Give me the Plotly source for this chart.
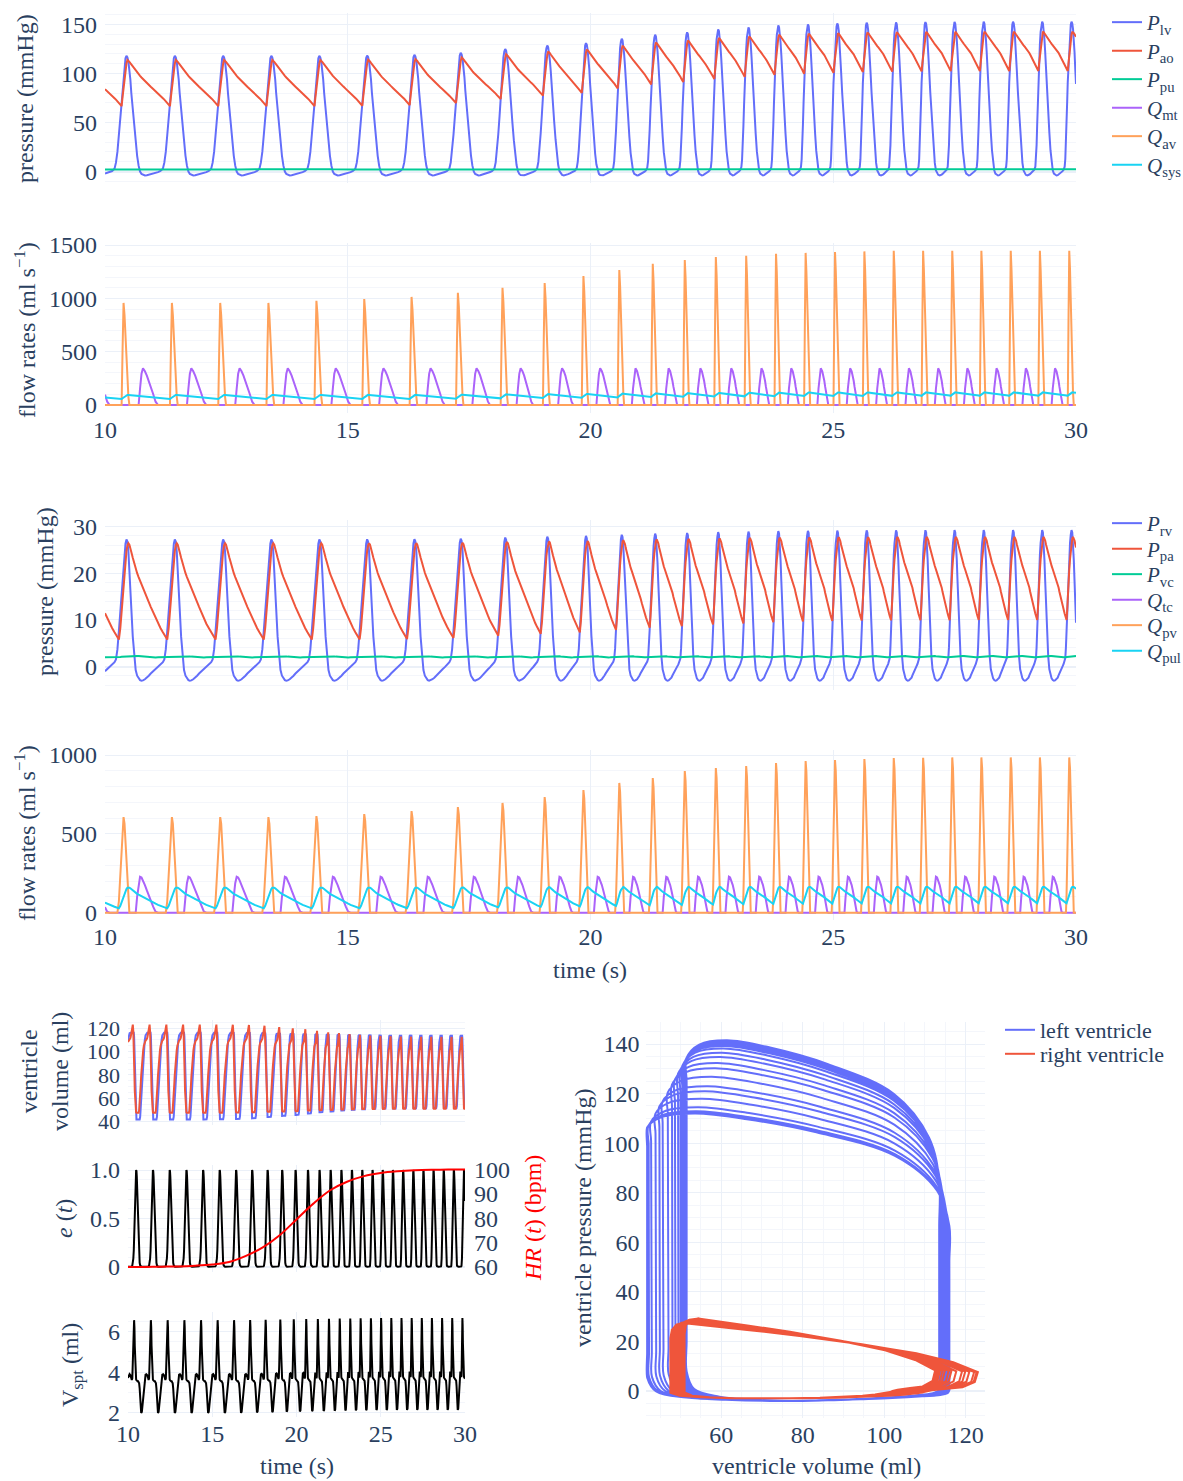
import numpy as np
import plotly.graph_objects as go

W, H = 1183, 1481

# ---------------- data ----------------
# beat onsets (s): aortic valve opening / minima of P_ao
beat_onsets = [9.345, 10.342, 11.338, 12.333, 13.326, 14.315, 15.300, 16.275, 17.230, 18.150,
               19.020, 19.820, 20.560, 21.250, 21.910, 22.550, 23.175, 23.790, 24.400, 25.005,
               25.610, 26.215, 26.820, 27.420, 28.020, 28.625, 29.225, 29.830, 30.430]

# per-beat amplitudes
plv_peak = [118, 118, 118, 118, 118, 118, 118.3, 119, 121, 125, 128.5, 131, 135.5, 139.5, 142,
            145, 147, 149, 150.2, 151, 151.8, 152.2, 152.5, 152.7, 152.8, 152.8, 152.9, 152.9, 152.9]
pao_peak = [113.8, 113.8, 113.8, 113.8, 113.8, 113.8, 114.1, 114.6, 116.3, 119.6, 122.5, 124.6, 128.3,
            131.6, 133.7, 136.2, 137.8, 139.5, 140.5, 141.1, 141.8, 142.1, 142.4, 142.5, 142.6, 142.6,
            142.7, 142.7, 142.7]
pao_min = [66.8, 66.8, 66.8, 66.8, 66.8, 66.8, 67.1, 67.8, 69.9, 74.0, 77.5, 80.1, 84.7, 88.9, 91.4,
           94.5, 96.6, 98.6, 99.8, 100.7, 101.5, 101.9, 102.2, 102.4, 102.5, 102.5, 102.6, 102.6, 102.6]
qav_peak = [957, 957, 957, 957, 957, 976, 994, 1013, 1051, 1098, 1144, 1210, 1266, 1323, 1360, 1388,
            1398, 1417, 1426, 1435, 1440, 1445, 1445, 1445, 1445, 1445, 1445, 1445, 1445]
qmt_peak = 344
qsys_max = [94.5, 94.5, 94.5, 94.5, 94.5, 94.5, 94.7, 95.1, 96.5, 99.3, 101.7, 103.4, 106.5, 109.2,
            111.0, 113.0, 114.4, 115.8, 116.6, 117.1, 117.7, 117.9, 118.2, 118.3, 118.4, 118.4, 118.4,
            118.4, 118.4]
qsys_min = [56.1, 56.1, 56.1, 56.1, 56.1, 56.1, 56.4, 57.0, 58.7, 62.2, 65.1, 67.3, 71.1, 74.7, 76.8,
            79.4, 81.1, 82.8, 83.8, 84.6, 85.3, 85.6, 85.8, 86.0, 86.1, 86.1, 86.2, 86.2, 86.2]
ppu_range = (2.0, 2.4)

prv_peak = [27.4, 27.4, 27.4, 27.4, 27.4, 27.4, 27.42, 27.46, 27.57, 27.8, 28.0, 28.14, 28.4, 28.63,
            28.78, 28.95, 29.06, 29.18, 29.25, 29.29, 29.34, 29.36, 29.38, 29.39, 29.39, 29.39, 29.4,
            29.4, 29.4]
ppa_peak = [26.4, 26.4, 26.4, 26.4, 26.4, 26.4, 26.41, 26.44, 26.52, 26.68, 26.82, 26.92, 27.1, 27.26,
            27.36, 27.48, 27.56, 27.64, 27.69, 27.72, 27.75, 27.77, 27.78, 27.79, 27.8, 27.8, 27.8,
            27.8, 27.8]
ppa_min = [5.8, 5.8, 5.8, 5.8, 5.8, 5.8, 5.84, 5.92, 6.16, 6.64, 7.06, 7.36, 7.9, 8.39, 8.69, 9.05,
           9.29, 9.53, 9.68, 9.77, 9.87, 9.92, 9.95, 9.97, 9.99, 9.99, 10.0, 10.0, 10.0]
pvc_range = (1.9, 2.3)
qpv_peak = [607, 607, 607, 607, 607, 613, 626, 645, 670, 696, 734, 778, 823, 854, 899, 918, 930, 949,
            962, 968, 975, 981, 983, 985, 985, 985, 985, 985, 985]
qtc_peak = 228
qpul_max = [161, 161, 161, 161, 161, 161, 161.0, 161.1, 161.3, 161.8, 162.2, 162.5, 163.0, 163.5,
            163.8, 164.1, 164.3, 164.6, 164.7, 164.8, 164.9, 164.9, 165, 165, 165, 165, 165, 165, 165]
qpul_min = [28, 28, 28, 28, 28, 28, 28.3, 28.9, 30.8, 34.4, 37.6, 39.9, 44.0, 47.7, 50.0, 52.8, 54.6,
            56.4, 57.5, 58.3, 59.0, 59.4, 59.6, 59.8, 59.9, 59.9, 60, 60, 60]

lv_edv = [116, 116, 116, 116, 116, 116, 116.0, 115.9, 115.8, 115.5, 115.3, 115.1, 114.7, 114.5, 114.3,
          114.1, 113.9, 113.8, 113.7, 113.6, 113.6, 113.6, 113.5, 113.5, 113.5, 113.5, 113.5, 113.5, 113.5]
lv_esv = [41.8, 41.8, 41.8, 41.8, 41.8, 41.8, 41.9, 42.1, 42.6, 43.7, 44.7, 45.4, 46.7, 47.8, 48.5,
          49.3, 49.9, 50.4, 50.8, 51.0, 51.2, 51.3, 51.4, 51.4, 51.5, 51.5, 51.5, 51.5, 51.5]
rv_edv = [123, 123, 123, 123, 123, 123, 122.9, 122.7, 122.1, 120.9, 119.9, 119.1, 117.7, 116.5, 115.8,
          114.9, 114.3, 113.7, 113.3, 113.1, 112.8, 112.7, 112.6, 112.6, 112.5, 112.5, 112.5, 112.5, 112.5]
rv_esv = [47.5, 47.5, 47.5, 47.5, 47.5, 47.5, 47.5, 47.6, 47.8, 48.2, 48.6, 48.8, 49.3, 49.7, 49.9,
          50.2, 50.4, 50.6, 50.7, 50.8, 50.9, 50.9, 51, 51, 51, 51, 51, 51, 51]
vspt_max = [6.55, 6.55, 6.55, 6.55, 6.55, 6.55, 6.55, 6.55, 6.56, 6.57, 6.58, 6.59, 6.6, 6.61, 6.62,
            6.63, 6.63, 6.64, 6.64, 6.65, 6.65, 6.65, 6.65, 6.65, 6.65, 6.65, 6.65, 6.65, 6.65]
vspt_min = [2.0, 2.0, 2.0, 2.0, 2.0, 2.0, 2.0, 2.0, 2.01, 2.03, 2.05, 2.06, 2.08, 2.09, 2.1, 2.12,
            2.12, 2.13, 2.14, 2.14, 2.15, 2.15, 2.15, 2.15, 2.15, 2.15, 2.15, 2.15, 2.15]
pv_lv_peak = [112, 112, 112, 112, 112, 112, 112.3, 112.9, 114.5, 117.9, 120.9, 123.0, 126.8, 130.2,
              132.3, 134.8, 136.5, 138.2, 139.2, 139.9, 140.6, 140.9, 141.2, 141.3, 141.4, 141.4,
              141.5, 141.5, 141.5]

hr_time = [10, 11, 12, 13, 14, 15, 16, 17, 18, 19, 20, 21, 22, 23, 24, 25, 26, 27, 28, 29, 30]
hr_bpm = [60, 60, 60.1, 60.2, 60.5, 61, 62, 64.5, 68, 73, 79.5, 86, 91.5, 95, 97.3, 98.6, 99.3,
          99.7, 99.9, 100, 100]

# one-beat waveform shapes (0..1) sampled at these times after onset (s, 60 bpm beat)
TAU = [0.00, 0.02, 0.04, 0.06, 0.08, 0.10, 0.12, 0.14, 0.16, 0.18, 0.20, 0.23, 0.26, 0.29, 0.32, 0.35,
       0.38, 0.41, 0.44, 0.48, 0.52, 0.56, 0.60, 0.65, 0.70, 0.75, 0.80, 0.85, 0.88, 0.91, 0.94, 0.97]
shape_plv = [0.607, 0.730, 0.852, 0.934, 0.980, 1.0, 0.988, 0.951, 0.885, 0.803, 0.689, 0.541, 0.410,
             0.279, 0.164, 0.082, 0.033, 0.012, 0.004, 0.0, 0.002, 0.006, 0.010, 0.016, 0.021, 0.028,
             0.037, 0.057, 0.107, 0.197, 0.336, 0.484]
shape_pao = [0.0, 0.20, 0.40, 0.60, 0.78, 0.92, 1.0, 0.985, 0.96, 0.93, 0.90, 0.855, 0.81, 0.77, 0.73,
             0.69, 0.655, 0.62, 0.585, 0.54, 0.50, 0.46, 0.42, 0.37, 0.325, 0.28, 0.23, 0.17, 0.14,
             0.10, 0.065, 0.03]
shape_ppu = [0.8, 0.85, 0.9, 0.93, 0.96, 0.98, 1, 1, 1, 0.98, 0.95, 0.9, 0.85, 0.8, 0.72, 0.62, 0.5,
             0.4, 0.32, 0.25, 0.2, 0.18, 0.18, 0.2, 0.25, 0.3, 0.38, 0.45, 0.52, 0.6, 0.68, 0.75]
shape_qav = [0.0, 0.55, 1.0, 0.88, 0.66, 0.44, 0.24, 0.08, 0, 0, 0, 0, 0, 0, 0, 0,
             0, 0, 0, 0, 0, 0, 0, 0, 0, 0, 0, 0, 0, 0, 0, 0]
shape_qmt = [0, 0, 0, 0, 0, 0, 0, 0, 0, 0, 0, 0, 0, 0, 0, 0,
             0.45, 0.85, 1.0, 0.92, 0.80, 0.66, 0.50, 0.30, 0.09, 0, 0, 0, 0, 0, 0, 0]
shape_vlv = [1.0, 0.96, 0.82, 0.56, 0.33, 0.16, 0.05, 0.0, 0, 0, 0, 0, 0, 0, 0, 0,
             0.03, 0.13, 0.26, 0.42, 0.57, 0.70, 0.81, 0.91, 0.97, 0.995, 1, 1, 1, 1, 1, 1]
shape_prv = [0.60, 0.72, 0.83, 0.91, 0.965, 0.995, 0.98, 0.91, 0.80, 0.66, 0.51, 0.31, 0.16, 0.075,
             0.035, 0.015, 0.004, 0.0, 0.002, 0.01, 0.02, 0.035, 0.05, 0.065, 0.08, 0.095, 0.11, 0.13,
             0.15, 0.22, 0.35, 0.48]
shape_ppa = [0.30, 0.45, 0.60, 0.73, 0.84, 0.92, 0.98, 1.0, 0.985, 0.955, 0.91, 0.85, 0.79, 0.735,
             0.69, 0.65, 0.61, 0.57, 0.53, 0.48, 0.435, 0.39, 0.34, 0.28, 0.22, 0.165, 0.12, 0.075,
             0.05, 0.025, 0.0, 0.12]
shape_pvc = [0.5, 0.55, 0.6, 0.65, 0.7, 0.75, 0.8, 0.85, 0.9, 0.92, 0.95, 0.97, 0.98, 0.97, 0.95, 0.9,
             0.82, 0.72, 0.62, 0.5, 0.4, 0.32, 0.26, 0.22, 0.2, 0.22, 0.26, 0.3, 0.34, 0.38, 0.42, 0.46]
shape_qpv = [0.62, 0.85, 1.0, 0.93, 0.72, 0.50, 0.30, 0.12, 0, 0, 0, 0, 0, 0, 0, 0,
             0, 0, 0, 0, 0, 0, 0, 0, 0, 0, 0, 0, 0, 0, 0.12, 0.38]
shape_qtc = [0, 0, 0, 0, 0, 0, 0, 0, 0, 0, 0, 0, 0, 0.0, 0.45, 0.82,
             1.0, 0.98, 0.90, 0.77, 0.62, 0.47, 0.33, 0.17, 0.03, 0, 0, 0, 0, 0, 0, 0]
shape_vrv = [0.80, 0.62, 0.42, 0.25, 0.13, 0.055, 0.02, 0.005, 0, 0, 0, 0, 0, 0, 0.03, 0.10,
             0.20, 0.31, 0.42, 0.54, 0.64, 0.71, 0.76, 0.80, 0.82, 0.83, 0.85, 0.90, 0.95, 0.99, 1.0, 0.92]
shape_e = [0.165, 0.26, 0.38, 0.52, 0.68, 0.82, 0.93, 1.0, 0.99, 0.93, 0.82, 0.60, 0.38, 0.21, 0.10,
           0.04, 0.015, 0.005, 0.001, 0, 0, 0, 0, 0, 0, 0, 0, 0, 0.003, 0.012, 0.034, 0.084]
shape_vspt = [0.879, 1.0, 0.923, 0.725, 0.549, 0.440, 0.385, 0.363, 0.352, 0.347, 0.341, 0.341, 0.341,
              0.330, 0.319, 0.264, 0.154, 0.044, 0.0, 0.011, 0.088, 0.198, 0.297, 0.374, 0.413, 0.418,
              0.407, 0.378, 0.356, 0.374, 0.505, 0.703]

T_REF, T_SYS = 0.996, 0.5


def series(shape, lo, hi):
    n = len(beat_onsets)
    lo = list(lo) if isinstance(lo, (list, tuple)) and len(lo) == n else [lo] * n
    hi = list(hi) if isinstance(hi, (list, tuple)) and len(hi) == n else [hi] * n
    ts, vs = [], []
    for k in range(n - 1):
        t0 = beat_onsets[k]
        T = beat_onsets[k + 1] - t0
        c = (T / T_REF) ** 0.5
        for tau, s in zip(TAU, shape):
            if tau < T_SYS:
                dt = tau * c
            else:
                dt = T_SYS * c + (tau - T_SYS) * (T - T_SYS * c) / (T_REF - T_SYS)
            low = lo[k] + (lo[k + 1] - lo[k]) * tau / T_REF
            ts.append(t0 + dt)
            vs.append(low + s * (hi[k] - low))
    ts, vs = np.array(ts), np.array(vs)
    m = (ts > 10) & (ts < 30)
    return (np.concatenate([[10.0], ts[m], [30.0]]),
            np.concatenate([[np.interp(10, ts, vs)], vs[m], [np.interp(30, ts, vs)]]))


t, plv = series(shape_plv, -4.0, plv_peak)
_, pao = series(shape_pao, pao_min, pao_peak)
_, ppu = series(shape_ppu, ppu_range[0], ppu_range[1])
_, qmt = series(shape_qmt, 0.0, qmt_peak)
_, qav = series(shape_qav, 0.0, qav_peak)
_, qsys = series(shape_pao, qsys_min, qsys_max)
_, prv = series(shape_prv, -3.0, prv_peak)
_, ppa = series(shape_ppa, ppa_min, ppa_peak)
_, pvc = series(shape_pvc, pvc_range[0], pvc_range[1])
_, qtc = series(shape_qtc, 0.0, qtc_peak)
_, qpv = series(shape_qpv, 0.0, qpv_peak)
_, qpul = series(shape_ppa, qpul_min, qpul_max)
_, vlv = series(shape_vlv, lv_esv, lv_edv)
_, vrv = series(shape_vrv, rv_esv, rv_edv)
_, e_t = series(shape_e, 0.0, 1.0)
_, vspt = series(shape_vspt, vspt_min, vspt_max)
_, plv_pv = series(shape_plv, -4.0, pv_lv_peak)

C_BLUE, C_RED, C_GREEN = '#636efa', '#EF553B', '#00cc96'
C_PURPLE, C_ORANGE, C_CYAN = '#ab63fa', '#FFA15A', '#19d3f3'

fig = go.Figure()
legend_layout = {}
FONT = 'Liberation Serif'


def add(x, y, xa, ya, color, name=None, legend_at=None, width=2, shape='linear', lsize=21):
    if legend_at is not None:
        lid = 'legend' if not legend_layout else 'legend%d' % (len(legend_layout) + 1)
        legend_layout[lid] = dict(x=legend_at[0] / W, y=1 - legend_at[1] / H,
                                  xref='container', yref='container', xanchor='left',
                                  yanchor='middle', font=dict(size=lsize),
                                  bgcolor='rgba(0,0,0,0)')
        kw = dict(showlegend=True, legend=lid)
    else:
        kw = dict(showlegend=False)
    fig.add_trace(go.Scatter(x=x, y=y, xaxis=xa, yaxis=ya, mode='lines', name=name,
                             line=dict(color=color, width=width, shape=shape), **kw))


LX = 1107
add(t, plv, 'x', 'y', C_BLUE, '<i>P</i><sub>lv</sub>', (LX, 22.5))
add(t, pao, 'x', 'y', C_RED, '<i>P</i><sub>ao</sub>', (LX, 51))
add(t, ppu, 'x', 'y', C_GREEN, '<i>P</i><sub>pu</sub>', (LX, 79.5))
add(t, qmt, 'x2', 'y2', C_PURPLE, '<i>Q</i><sub>mt</sub>', (LX, 108))
add(t, qav, 'x2', 'y2', C_ORANGE, '<i>Q</i><sub>av</sub>', (LX, 136.5))
add(t, qsys, 'x2', 'y2', C_CYAN, '<i>Q</i><sub>sys</sub>', (LX, 165))

add(t, prv, 'x3', 'y3', C_BLUE, '<i>P</i><sub>rv</sub>', (LX, 523.5))
add(t, ppa, 'x3', 'y3', C_RED, '<i>P</i><sub>pa</sub>', (LX, 549))
add(t, pvc, 'x3', 'y3', C_GREEN, '<i>P</i><sub>vc</sub>', (LX, 574.5))
add(t, qtc, 'x4', 'y4', C_PURPLE, '<i>Q</i><sub>tc</sub>', (LX, 600))
add(t, qpv, 'x4', 'y4', C_ORANGE, '<i>Q</i><sub>pv</sub>', (LX, 625.5))
add(t, qpul, 'x4', 'y4', C_CYAN, '<i>Q</i><sub>pul</sub>', (LX, 651))

add(t, vlv, 'x5', 'y5', C_BLUE)
add(t, vrv, 'x5', 'y5', C_RED)
add(t, e_t, 'x6', 'y6', 'black')
fig.add_trace(go.Scatter(x=hr_time, y=hr_bpm, xaxis='x6', yaxis='y7', mode='lines',
                         line=dict(color='red', width=2, shape='spline'), showlegend=False))
add(t, vspt, 'x7', 'y8', 'black')

add(vlv, plv_pv, 'x8', 'y9', C_BLUE, 'left ventricle', (1000, 1030), shape='spline', lsize=22)
add(vrv, prv, 'x8', 'y9', C_RED, 'right ventricle', (1000, 1054), shape='linear', lsize=22)


def xd(a, b):
    return [a / W, b / W]


def yd(top, bottom):
    return [1 - bottom / H, 1 - top / H]


GRID, MINOR = '#EBF0F8', '#F4F6FB'


def yax(dom, r, dtick, minor, anchor, standoff=7, **kw):
    d = dict(domain=dom, range=r, dtick=dtick, anchor=anchor, gridcolor=GRID,
             zerolinecolor=GRID, zerolinewidth=2, ticks='', showline=False, automargin=False,
             ticklabelstandoff=standoff,
             minor=dict(dtick=minor, showgrid=True, gridcolor=MINOR))
    d.update(kw)
    return d


def xax(dom, r, anchor, labels=True, **kw):
    d = dict(domain=dom, range=r, anchor=anchor, dtick=5, tick0=10, gridcolor=GRID,
             zerolinecolor=GRID, ticks='', showline=False, showticklabels=labels,
             automargin=False)
    d.update(kw)
    return d


XT = xd(105, 1076)
XB = xd(128, 465)
XP = xd(645.5, 984.8)

layout = dict(
    template='plotly_white', width=W, height=H,
    margin=dict(l=0, r=0, t=0, b=0, autoexpand=False),
    font=dict(family=FONT, size=24, color='#2a3f5f'),
    plot_bgcolor='white', paper_bgcolor='white',
    xaxis=xax(XT, [10, 30], 'y', False),
    yaxis=yax(yd(13.3, 183.3), [-12, 161.4], 50, 10, 'x'),
    xaxis2=xax(XT, [10, 30], 'y2'),
    yaxis2=yax(yd(243.3, 413.3), [-78, 1516], 500, 100, 'x2'),
    xaxis3=xax(XT, [10, 30], 'y3', False),
    yaxis3=yax(yd(520, 690), [-5.0, 31.4], 10, 2, 'x3'),
    xaxis4=xax(XT, [10, 30], 'y4'),
    yaxis4=yax(yd(750, 920), [-46, 1032], 500, 100, 'x4'),
    xaxis5=xax(XB, [10, 30], 'y5', False),
    yaxis5=yax(yd(1020, 1125), [37, 127], 20, 5, 'x5', tickfont=dict(size=22)),
    xaxis6=xax(XB, [10, 30], 'y6', False),
    yaxis6=yax(yd(1165.2, 1271.5), [-0.05, 1.05], 0.5, 0.1, 'x6',
               tickvals=[0, 0.5, 1.0], ticktext=['0', '0.5', '1.0']),
    yaxis7=dict(domain=yd(1165.2, 1271.5), range=[58.1, 101.8], dtick=10, anchor='x6',
                overlaying='y6', side='right', showgrid=False, zeroline=False, ticks='',
                automargin=False, ticklabelstandoff=8),
    xaxis7=xax(XB, [10, 30], 'y8'),
    yaxis8=yax(yd(1312, 1417), [1.8, 6.95], 2, 0.5, 'x7'),
    xaxis8=dict(domain=XP, range=[41.4, 124.7], anchor='y9', dtick=20, gridcolor=GRID,
                zerolinecolor=GRID, ticks='', automargin=False,
                minor=dict(dtick=5, showgrid=True, gridcolor=MINOR)),
    yaxis9=yax(yd(1022.2, 1417.8), [-10.8, 148.8], 20, 5, 'x8', standoff=5),
)
layout.update(legend_layout)
fig.update_layout(**layout)


def label(text, px, py, angle=0, color='#2a3f5f', size=24):
    fig.add_annotation(text=text, x=px / W, y=1 - py / H, xref='paper', yref='paper',
                       showarrow=False, textangle=angle, xanchor='center', yanchor='middle',
                       font=dict(family=FONT, size=size, color=color))


label('pressure (mmHg)', 25, 99, -90)
label('flow rates (ml s<sup>−1</sup>)', 25, 330, -90)
label('pressure (mmHg)', 45, 592, -90)
label('flow rates (ml s<sup>−1</sup>)', 25, 833, -90)
label('time (s)', 590, 970)
label('ventricle<br>volume (ml)', 44, 1072, -90)
label('<i>e</i> (<i>t</i>)', 64, 1218, -90)
label('<i>HR</i> (<i>t</i>) (bpm)', 533, 1218, -90, color='red')
label('V<sub>spt</sub> (ml)', 72, 1365, -90)
label('time (s)', 297, 1466)
label('ventricle pressure (mmHg)', 583, 1218, -90)
label('ventricle volume (ml)', 816, 1466)

fig.write_html('out.html')
